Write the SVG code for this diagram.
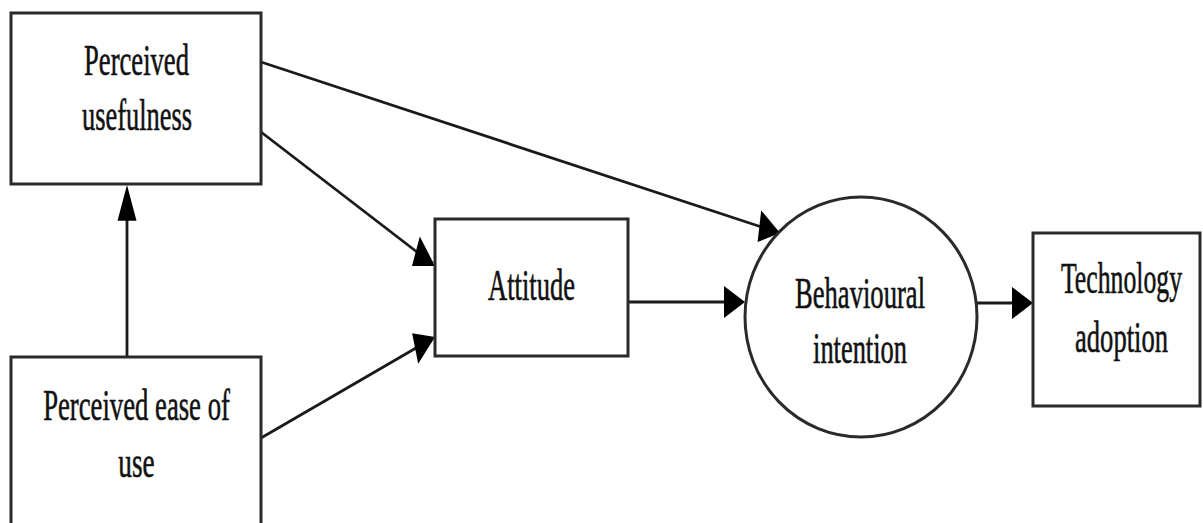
<svg xmlns="http://www.w3.org/2000/svg" width="1203" height="523" viewBox="0 0 1203 523">
<style>
.box{fill:#fff;stroke:#2a2a2a;stroke-width:3}
.lbl{font-family:"Liberation Serif","Times New Roman",serif;font-size:44px;fill:#111;stroke:#111;stroke-width:0.6;text-anchor:middle}
.con{fill:none;stroke:#1a1a1a;stroke-width:2.8}
.head{fill:#000;stroke:none}
</style>
<rect width="1203" height="523" fill="#fff"/>
<g id="connectors">
<path class="con" d="M127,357 L127,215"/>
<polygon class="head" points="127,185 117.5,220.7 136.5,220.7"/>
<path class="con" d="M261,62 L760,226.5"/>
<polygon class="head" points="780,233 757.6,242.1 761.2,210.4"/>
<path class="con" d="M261,132 L417,252"/>
<polygon class="head" points="435,266 412,266 419.8,236.6"/>
<path class="con" d="M261,438 L416,348"/>
<polygon class="head" points="435,337 418.2,363.8 412.1,333.3"/>
<path class="con" d="M628,302 L726,302"/>
<polygon class="head" points="745,302 724,285.9 724,318.1"/>
<path class="con" d="M977,303 L1014,303"/>
<polygon class="head" points="1033,303 1012,286.9 1012,319.1"/>
</g>
<g id="perceived-usefulness">
<rect class="box" x="11" y="13" width="250" height="171"/>
<text class="lbl" transform="translate(136.5,75) scale(0.605,1)">Perceived</text>
<text class="lbl" transform="translate(137,130) scale(0.6,1)">usefulness</text>
</g>
<g id="perceived-ease-of-use">
<rect class="box" x="11" y="357" width="250" height="180"/>
<text class="lbl" transform="translate(136.5,420) scale(0.607,1)">Perceived ease of</text>
<text class="lbl" transform="translate(136.5,477) scale(0.62,1)">use</text>
</g>
<g id="attitude">
<rect class="box" x="435" y="219" width="193" height="137"/>
<text class="lbl" transform="translate(531.5,300) scale(0.603,1)">Attitude</text>
</g>
<g id="behavioural-intention">
<ellipse class="box" cx="861" cy="317" rx="116" ry="120"/>
<text class="lbl" transform="translate(860,308) scale(0.605,1)">Behavioural</text>
<text class="lbl" transform="translate(860,363) scale(0.6,1)">intention</text>
</g>
<g id="technology-adoption">
<rect class="box" x="1033" y="233" width="167" height="173"/>
<text class="lbl" transform="translate(1121.5,293) scale(0.585,1)">Technology</text>
<text class="lbl" transform="translate(1121.5,352) scale(0.604,1)">adoption</text>
</g>
</svg>
